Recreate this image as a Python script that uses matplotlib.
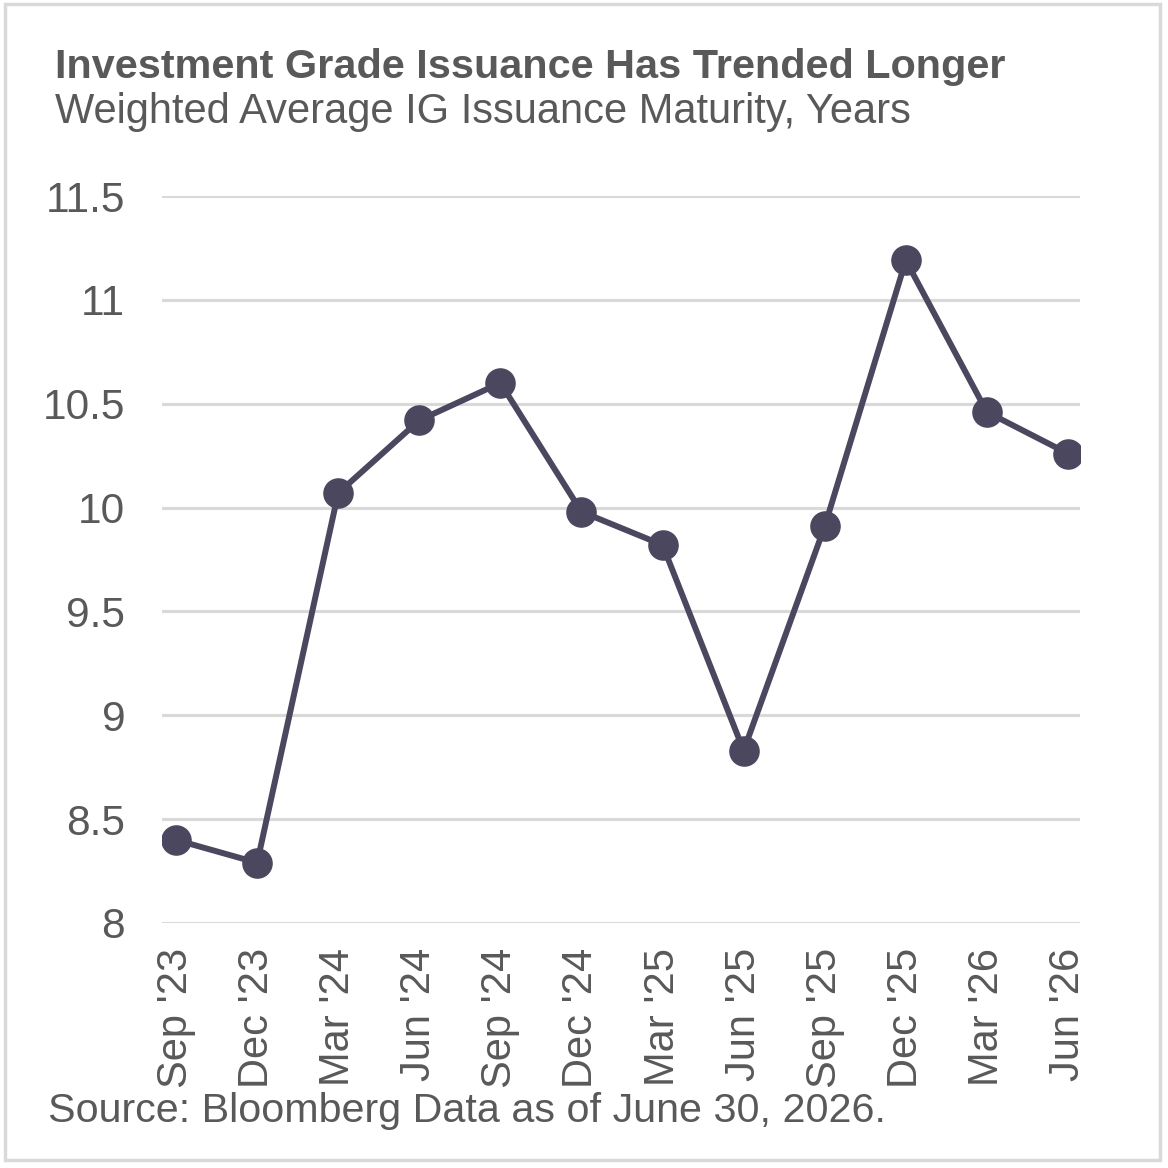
import matplotlib.pyplot as plt
from matplotlib.patches import Rectangle

# Data
quarters = ["Sep '23", "Dec '23", "Mar '24", "Jun '24", "Sep '24", "Dec '24",
            "Mar '25", "Jun '25", "Sep '25", "Dec '25", "Mar '26", "Jun '26"]
maturity = [8.40, 8.29, 10.07, 10.42, 10.60, 9.98, 9.82, 8.83, 9.91, 11.19, 10.46, 10.26]
yticks = [8, 8.5, 9, 9.5, 10, 10.5, 11, 11.5]
ytick_labels = ['8', '8.5', '9', '9.5', '10', '10.5', '11', '11.5']

plt.rcParams['font.family'] = ['Liberation Sans', 'DejaVu Sans']
txt = '#595959'
line_col = '#4a475f'

W, H = 1168, 1168
fig = plt.figure(figsize=(W / 100, H / 100), dpi=100)
ax = fig.add_axes([162 / W, 1 - 923 / H, (1080 - 162) / W, (923 - 196) / H])

x = range(len(quarters))
ax.plot(x, maturity, color=line_col, lw=4.3, marker='o', ms=21, zorder=3)

ax.set_ylim(8, 11.5)
ax.set_xlim(-0.173, 11.148)
ax.set_yticks(yticks)
ax.set_yticklabels(ytick_labels)
ax.set_xticks(list(x))
ax.set_xticklabels(quarters, rotation=90)
ax.tick_params(axis='y', length=0, pad=26.5, labelsize=30.5, labelcolor=txt)
ax.tick_params(axis='x', length=0, pad=18, labelsize=30, labelcolor=txt)
ax.grid(axis='y', color='#d9d9d9', lw=2.2)
ax.set_axisbelow(True)
for s in ax.spines.values():
    s.set_visible(False)

fig.text(55 / W, 1 - 78 / H, 'Investment Grade Issuance Has Trended Longer',
         fontsize=29.8, fontweight='bold', color=txt, va='baseline')
fig.text(55 / W, 1 - 123 / H, 'Weighted Average IG Issuance Maturity, Years',
         fontsize=30, color=txt, va='baseline')
fig.text(48 / W, 1 - 1122 / H, 'Source: Bloomberg Data as of June 30, 2026.',
         fontsize=29.7, color=txt, va='baseline')

fig.patches.append(Rectangle((5 / W, 1 - 1160 / H), 1155 / W, 1156 / H,
                             transform=fig.transFigure, fill=False,
                             edgecolor='#d9d9d9', lw=2.5))

fig.savefig('out.png', dpi=100)
